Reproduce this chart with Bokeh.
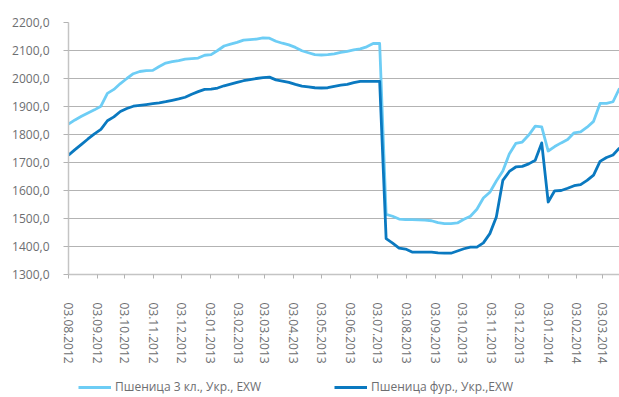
import pandas as pd
from bokeh.plotting import figure
from bokeh.layouts import column
from bokeh.models import (FixedTicker, DatetimeTickFormatter, Range1d, Legend, LegendItem)
from bokeh.embed import file_html
from bokeh.resources import INLINE

# Weekly observations (Fridays) from 03.08.2012 to 21.03.2014
start_date = "2012-08-03"
n_weeks = 86

wheat_3 = [1837, 1852, 1865, 1877, 1888, 1901, 1947, 1961, 1982, 2000,
           2017, 2025, 2028, 2029, 2043, 2055, 2060, 2064, 2069, 2071,
           2073, 2083, 2085, 2100, 2116, 2123, 2129, 2137, 2139, 2141,
           2145, 2144, 2133, 2126, 2120, 2111, 2099, 2092, 2085, 2084,
           2085, 2088, 2093, 2097, 2102, 2106, 2113, 2125, 2125, 1515,
           1508, 1498, 1496, 1496, 1495, 1494, 1492, 1485, 1482, 1482,
           1484, 1497, 1508, 1533, 1573, 1594, 1634, 1670, 1730, 1768,
           1773, 1798, 1830, 1827, 1741, 1757, 1770, 1782, 1806, 1809,
           1826, 1847, 1911, 1911, 1917, 1965]

wheat_feed = [1726, 1746, 1765, 1784, 1802, 1818, 1849, 1863, 1882, 1893,
              1901, 1904, 1907, 1910, 1913, 1917, 1922, 1927, 1933, 1944,
              1953, 1961, 1962, 1966, 1974, 1980, 1986, 1992, 1996, 2000,
              2003, 2005, 1995, 1991, 1986, 1979, 1973, 1970, 1967, 1966,
              1967, 1972, 1976, 1979, 1985, 1990, 1990, 1990, 1990, 1428,
              1412, 1394, 1391, 1380, 1380, 1380, 1380, 1377, 1376, 1376,
              1384, 1392, 1398, 1398, 1413, 1446, 1505, 1636, 1668, 1684,
              1686, 1695, 1708, 1770, 1559, 1599, 1600, 1608, 1617, 1621,
              1636, 1655, 1704, 1718, 1727, 1752]

series_names = ["Пшеница 3 кл., Укр., EXW", "Пшеница фур., Укр.,EXW"]

x_tick_labels = ["03.08.2012", "03.09.2012", "03.10.2012", "03.11.2012",
                 "03.12.2012", "03.01.2013", "03.02.2013", "03.03.2013",
                 "03.04.2013", "03.05.2013", "03.06.2013", "03.07.2013",
                 "03.08.2013", "03.09.2013", "03.10.2013", "03.11.2013",
                 "03.12.2013", "03.01.2014", "03.02.2014", "03.03.2014"]

y_ticks = [1300, 1400, 1500, 1600, 1700, 1800, 1900, 2000, 2100, 2200]
y_tick_labels = ["1300,0", "1400,0", "1500,0", "1600,0", "1700,0",
                 "1800,0", "1900,0", "2000,0", "2100,0", "2200,0"]

dates = pd.date_range(start_date, periods=n_weeks, freq="7D")
tick_dates = pd.to_datetime(x_tick_labels, format="%d.%m.%Y")
tick_ms = [float(t.value // 10**6) for t in tick_dates]

LIGHT = "#6dcdf5"
DARK = "#0a79c0"
GRID = "#b3b3b3"
AXIS = "#c4c4c4"
TEXT = "#6d6e71"
FONT = "Open Sans"
LW = 2.8

p = figure(width=619, height=370, x_axis_type="datetime",
           output_backend="svg", toolbar_location=None,
           min_border_left=68, min_border_right=0,
           min_border_top=22, min_border_bottom=96)
p.outline_line_color = None
p.background_fill_color = "white"
p.border_fill_color = "white"

p.x_range = Range1d(dates[0], dates[-1])
p.y_range = Range1d(1300, 2200)

p.line(dates, wheat_3, line_color=LIGHT, line_width=LW, line_join="round")
p.line(dates, wheat_feed, line_color=DARK, line_width=LW, line_join="round")

# grid
p.xgrid.visible = False
p.ygrid.grid_line_color = GRID
p.ygrid.grid_line_width = 1
p.ygrid.ticker = FixedTicker(ticks=y_ticks)

# y axis
ya = p.yaxis[0]
ya.ticker = FixedTicker(ticks=y_ticks)
ya.major_label_overrides = {t: l for t, l in zip(y_ticks, y_tick_labels)}
ya.axis_line_color = AXIS
ya.axis_line_width = 1.5
ya.major_tick_line_color = GRID
ya.major_tick_out = 5
ya.major_tick_in = 0
ya.minor_tick_line_color = None
ya.major_label_standoff = 14
ya.major_label_text_font = FONT
ya.major_label_text_font_size = "12px"
ya.major_label_text_color = TEXT

# x axis
xa = p.xaxis[0]
xa.ticker = FixedTicker(ticks=tick_ms)
fmt = "%d.%m.%Y"
xa.formatter = DatetimeTickFormatter(milliseconds=fmt, seconds=fmt, minsec=fmt,
                                     minutes=fmt, hourmin=fmt, hours=fmt,
                                     days=fmt, months=fmt, years=fmt)
xa.major_label_orientation = "vertical"
xa.axis_line_color = AXIS
xa.axis_line_width = 1.5
xa.major_tick_line_color = GRID
xa.major_tick_out = 4
xa.major_tick_in = 0
xa.minor_tick_line_color = None
xa.major_label_standoff = 24
xa.major_label_text_font = FONT
xa.major_label_text_font_size = "12px"
xa.major_label_text_color = TEXT

# legend strip below the chart (series drawn off-range, only used for the legend)
lg = figure(width=619, height=27, output_backend="svg", toolbar_location=None,
            x_axis_location=None, y_axis_location=None,
            min_border=0, min_border_left=68,
            x_range=Range1d(dates[0], dates[-1]), y_range=Range1d(0, 1))
lg.outline_line_color = None
lg.xgrid.visible = False
lg.ygrid.visible = False
l1 = lg.line(dates, wheat_3, line_color=LIGHT, line_width=LW)
l2 = lg.line(dates, wheat_feed, line_color=DARK, line_width=LW)
legend = Legend(items=[LegendItem(label=series_names[0], renderers=[l1]),
                       LegendItem(label=series_names[1], renderers=[l2])],
                orientation="horizontal", location=(10, 2),
                glyph_width=33, glyph_height=14, label_height=14,
                label_standoff=4, spacing=73, padding=0, margin=0,
                border_line_color=None, background_fill_alpha=0,
                label_text_font=FONT, label_text_font_size="12px",
                label_text_color=TEXT)
lg.add_layout(legend, "center")

layout = column(p, lg, spacing=0)
open("out.html", "w").write(file_html(layout, INLINE))
